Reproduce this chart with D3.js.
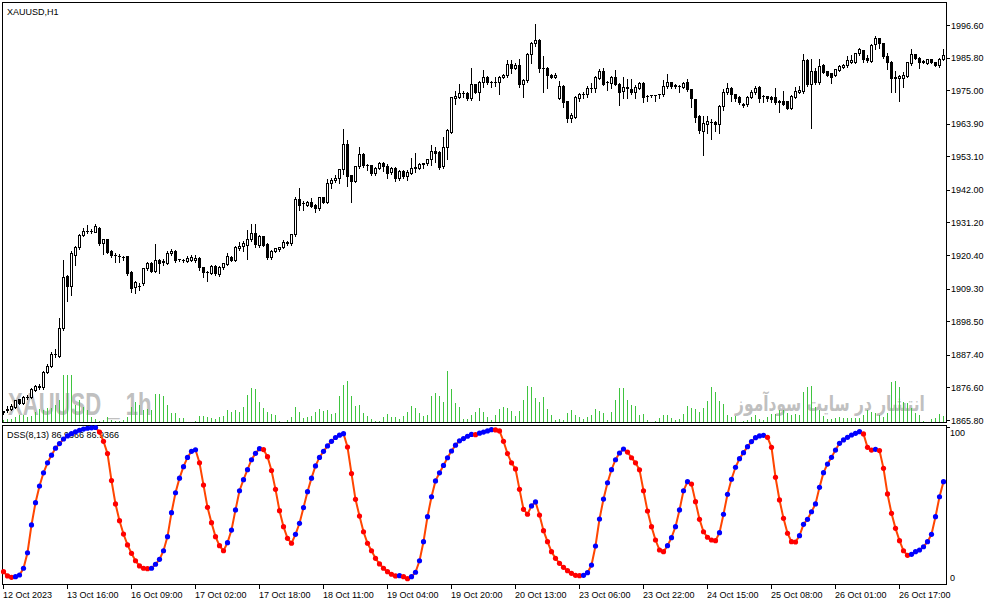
<!DOCTYPE html>
<html>
<head>
<meta charset="utf-8">
<script src="https://cdn.jsdelivr.net/npm/d3@7"></script>
<style>
  body { margin: 0; background: #fff; }
  svg text { font-family: "Liberation Sans", Arial, sans-serif; }
</style>
</head>
<body>
<svg id="chart" width="991" height="605"></svg>
<script>
// XAUUSD H1, 236 bars
var openP = [
 1868.3,1869.2,1869.3,1870.2,1872.6,1871.5,1873.3,1873.3,1875.7,1876.8,1876.6,1881.8,1883.7,1887.5,1887.1,1896.1,1913.5,1910.2,1920.4,1923.0,
 1927.1,1928.4,1928.3,1928.2,1929.5,1924.3,1925.6,1921.8,1920.5,1920.2,1919.9,1920.1,1914.9,1909.7,1910.1,1911.2,1916.0,1917.9,1915.2,1918.8,
 1918.2,1917.9,1921.0,1921.9,1919.0,1918.8,1918.5,1918.8,1918.8,1919.3,1916.3,1914.9,1914.4,1916.8,1914.1,1916.3,1917.4,1919.9,1918.8,1922.6,
 1923.4,1923.7,1925.6,1927.6,1923.7,1926.7,1924.1,1919.7,1921.9,1922.3,1923.0,1924.3,1924.5,1927.4,1938.9,1937.5,1937.0,1937.9,1937.0,1935.9,
 1939.5,1938.1,1944.2,1945.3,1946.1,1948.8,1957.2,1946.9,1945.0,1949.9,1953.9,1950.3,1950.2,1947.5,1949.4,1950.8,1949.9,1948.0,1949.4,1946.1,
 1948.3,1946.6,1947.7,1949.1,1949.4,1950.7,1950.8,1952.1,1955.0,1954.6,1949.9,1956.1,1961.3,1972.3,1972.9,1974.1,1974.2,1972.3,1976.9,1974.5,
 1977.8,1979.4,1977.7,1977.6,1977.6,1979.4,1980.0,1983.6,1982.5,1983.3,1977.2,1978.3,1986.9,1990.8,1991.6,1982.5,1982.5,1980.2,1979.4,1972.3,
 1976.5,1971.4,1965.9,1966.2,1972.5,1973.6,1973.6,1975.8,1975.6,1979.2,1981.3,1977.6,1977.3,1979.4,1977.2,1974.7,1975.7,1975.4,1974.3,1975.8,
 1977.3,1973.1,1973.4,1973.4,1973.6,1973.6,1976.5,1977.6,1976.6,1976.5,1976.2,1977.6,1975.4,1972.1,1966.6,1961.5,1963.7,1964.5,1964.6,1963.7,
 1969.9,1974.3,1975.8,1973.6,1972.8,1970.6,1970.3,1972.8,1974.3,1976.2,1973.1,1973.1,1972.8,1972.8,1971.0,1971.4,1971.4,1969.2,1972.9,1974.5,
 1974.7,1985.0,1976.9,1981.4,1977.8,1983.3,1981.3,1980.6,1980.2,1981.7,1982.8,1983.3,1984.4,1984.4,1987.2,1988.3,1985.8,1984.7,1990.2,1992.2,
 1990.5,1986.4,1984.4,1979.5,1978.9,1979.1,1979.8,1983.9,1986.9,1985.8,1984.7,1983.9,1985.3,1984.2,1983.3,1985.5
];
var highP = [
 1869.2,1870.8,1871.3,1872.8,1873.2,1874.0,1874.3,1876.6,1877.8,1877.9,1882.3,1884.8,1888.6,1889.8,1899.8,1919.0,1914.3,1922.0,1923.8,1927.8,
 1929.8,1930.7,1929.4,1930.9,1930.0,1926.2,1926.0,1922.3,1921.5,1921.0,1920.4,1920.6,1915.5,1912.2,1911.6,1916.5,1918.5,1918.6,1924.5,1919.4,
 1919.4,1922.0,1922.6,1922.4,1919.6,1919.3,1920.3,1920.8,1920.9,1920.2,1916.8,1915.4,1917.4,1917.3,1917.1,1918.2,1921.5,1920.4,1923.8,1925.0,
 1925.3,1928.9,1931.1,1931.1,1927.3,1927.2,1924.6,1922.4,1923.1,1923.5,1925.6,1925.5,1927.8,1940.1,1942.8,1938.6,1938.6,1939.5,1937.6,1940.1,
 1940.1,1946.0,1946.3,1947.4,1949.3,1962.4,1958.7,1947.4,1950.4,1956.5,1954.5,1951.0,1950.7,1950.0,1951.7,1951.7,1951.0,1950.0,1950.0,1948.9,
 1949.0,1948.8,1952.8,1954.6,1951.2,1951.3,1952.6,1957.2,1956.5,1955.2,1959.8,1962.4,1973.2,1975.1,1977.5,1975.1,1974.8,1982.8,1977.5,1978.3,
 1982.0,1980.0,1978.4,1979.8,1980.0,1980.8,1985.3,1985.3,1984.5,1985.8,1978.9,1987.5,1991.4,1997.1,1992.4,1986.6,1983.0,1980.7,1981.1,1978.3,
 1977.0,1971.9,1967.9,1973.4,1974.5,1974.7,1976.7,1977.8,1980.0,1982.5,1982.8,1978.4,1980.0,1982.0,1977.8,1979.8,1979.1,1979.1,1976.9,1978.0,
 1977.9,1973.6,1973.9,1973.8,1974.0,1978.7,1980.6,1978.0,1977.3,1977.0,1978.0,1978.9,1975.9,1972.5,1967.1,1966.8,1966.8,1965.9,1965.1,1970.4,
 1975.6,1977.8,1976.5,1974.1,1973.3,1971.1,1973.4,1975.4,1976.7,1976.7,1973.6,1973.4,1973.3,1976.2,1972.0,1975.1,1971.9,1973.7,1976.5,1976.7,
 1987.2,1985.8,1985.8,1982.8,1985.8,1983.9,1981.8,1981.1,1982.5,1983.6,1983.9,1986.7,1986.9,1987.7,1989.4,1988.8,1986.9,1990.5,1993.3,1992.7,
 1991.0,1987.5,1984.9,1981.7,1980.4,1981.3,1984.7,1989.1,1987.4,1986.3,1985.3,1985.6,1985.6,1984.6,1986.1,1989.1
];
var lowP = [
 1867.9,1868.5,1869.0,1869.8,1871.0,1871.1,1872.6,1873.0,1875.3,1875.9,1876.2,1881.3,1883.2,1886.7,1886.8,1895.5,1905.3,1907.2,1917.1,1922.5,
 1926.7,1927.6,1927.8,1927.9,1923.8,1920.8,1921.0,1919.9,1918.2,1918.2,1918.8,1913.8,1908.3,1908.0,1908.8,1910.6,1915.5,1914.7,1914.8,1914.4,
 1917.2,1917.4,1920.6,1918.2,1918.3,1918.1,1918.0,1918.3,1918.2,1915.6,1913.0,1911.9,1914.0,1913.9,1913.6,1915.8,1917.0,1918.3,1918.3,1922.1,
 1921.8,1919.0,1925.0,1923.0,1923.2,1923.4,1919.2,1919.0,1921.4,1921.9,1922.6,1923.8,1923.7,1926.8,1935.3,1935.3,1936.6,1936.2,1934.8,1935.3,
 1937.6,1937.6,1942.5,1944.5,1944.4,1947.3,1943.3,1938.1,1944.5,1949.4,1949.6,1948.6,1947.0,1947.0,1948.9,1948.4,1946.1,1947.4,1945.0,1945.3,
 1946.0,1945.3,1947.2,1948.0,1948.9,1949.1,1950.3,1950.2,1951.3,1949.0,1949.4,1952.1,1960.9,1970.6,1972.4,1972.6,1971.8,1971.8,1974.0,1971.7,
 1976.2,1976.9,1976.2,1976.5,1973.9,1978.9,1979.5,1980.6,1982.0,1976.2,1972.9,1977.8,1983.9,1989.7,1980.9,1974.3,1975.8,1978.9,1978.9,1972.0,
 1969.6,1964.4,1964.4,1965.7,1971.4,1972.5,1972.9,1974.5,1974.3,1978.7,1976.7,1975.1,1975.6,1976.7,1970.1,1972.3,1972.3,1973.8,1972.3,1975.3,
 1971.0,1971.4,1972.9,1971.4,1972.5,1973.0,1975.6,1975.9,1975.6,1974.5,1975.6,1974.9,1969.5,1964.6,1960.7,1953.5,1960.7,1958.8,1961.5,1961.0,
 1968.4,1973.6,1971.4,1971.4,1970.5,1969.6,1969.8,1972.3,1973.8,1971.0,1971.0,1971.4,1971.0,1970.5,1967.9,1970.1,1968.7,1968.7,1972.3,1974.0,
 1974.2,1976.3,1962.6,1976.9,1977.2,1980.6,1979.7,1977.3,1979.7,1981.3,1982.3,1982.8,1984.0,1983.9,1986.7,1984.4,1984.4,1984.2,1988.6,1988.9,
 1985.8,1982.0,1974.3,1974.5,1971.4,1976.2,1979.5,1983.4,1985.3,1982.2,1983.9,1983.6,1983.9,1983.1,1982.8,1985.0
];
var closeP = [
 1868.8,1869.4,1870.4,1872.4,1871.5,1873.5,1873.4,1875.9,1877.0,1876.9,1881.8,1883.7,1887.6,1887.7,1896.1,1913.0,1910.2,1921.0,1923.0,1927.1,
 1928.4,1928.5,1928.4,1930.0,1924.3,1925.6,1921.5,1920.4,1920.4,1920.1,1919.8,1914.4,1909.4,1911.6,1910.2,1916.0,1917.9,1915.2,1918.8,1917.7,
 1918.3,1921.2,1921.9,1918.8,1919.0,1918.7,1919.6,1919.9,1919.6,1916.3,1914.9,1914.8,1916.8,1914.4,1916.6,1917.7,1920.1,1918.8,1923.2,1923.4,
 1924.3,1925.9,1927.6,1924.1,1926.7,1923.9,1919.7,1921.9,1922.6,1923.0,1924.8,1924.8,1927.4,1938.9,1937.0,1937.6,1938.1,1936.7,1935.9,1939.5,
 1938.1,1944.2,1945.3,1946.1,1948.8,1957.2,1946.6,1945.0,1949.9,1953.9,1950.2,1950.2,1947.5,1949.4,1950.8,1949.9,1947.7,1949.4,1945.8,1948.3,
 1946.6,1948.0,1949.4,1949.7,1950.6,1950.8,1952.1,1955.0,1954.3,1949.7,1956.1,1961.8,1972.6,1973.1,1974.2,1974.2,1972.3,1976.9,1974.5,1977.8,
 1979.4,1977.6,1977.6,1977.7,1979.4,1980.0,1983.6,1982.5,1983.3,1977.2,1978.3,1986.9,1990.8,1991.6,1982.5,1982.4,1980.0,1979.4,1980.2,1976.5,
 1971.0,1965.9,1966.8,1972.9,1973.6,1973.7,1975.8,1975.9,1979.4,1981.3,1977.2,1977.7,1979.4,1977.2,1974.5,1976.2,1976.2,1974.3,1976.2,1977.3,
 1972.9,1973.2,1973.4,1973.5,1973.7,1976.5,1977.6,1976.5,1976.5,1976.4,1977.3,1975.4,1972.3,1966.2,1961.8,1964.0,1964.8,1964.6,1963.7,1969.9,
 1974.3,1975.8,1973.6,1972.5,1971.0,1970.1,1972.8,1974.5,1975.8,1972.5,1973.0,1972.3,1972.1,1971.0,1971.4,1970.6,1969.2,1973.2,1974.7,1975.1,
 1985.0,1976.9,1981.4,1977.6,1983.1,1981.1,1980.2,1979.5,1982.0,1983.1,1983.3,1985.0,1985.0,1987.2,1988.6,1985.5,1985.0,1990.0,1992.2,1990.5,
 1986.4,1984.4,1979.1,1979.1,1979.8,1980.2,1984.2,1986.9,1985.8,1984.4,1984.2,1985.3,1984.2,1983.3,1985.5,1986.6
];
var volume = [
 1350,2000,1650,2700,3850,3850,2700,3350,5500,6700,6350,7200,7200,9000,11350,23850,23850,23850,8850,11350,
 8000,6350,2700,1700,1000,1350,3000,1350,1000,1000,1350,2700,8000,10500,8850,6350,6700,6350,14350,14350,
 13350,8850,5000,5000,2200,2200,500,500,1000,3350,3350,2700,2200,1700,2700,3350,6350,5500,6000,5500,
 8000,13850,17200,16700,10500,7350,5500,4350,3850,1000,500,1350,2700,7700,5500,2200,2700,3350,5500,6700,
 5750,6250,4350,5000,13350,18850,20850,13350,8350,8850,5000,3350,1850,850,850,2850,4350,2850,2850,1850,
 3350,5350,8350,7350,4850,3350,3850,13350,14850,13350,10350,25850,16850,9850,7850,1850,1850,3850,5350,7350,
 5350,2850,1350,3850,6850,7850,7350,5850,3350,5850,11350,18350,17850,12350,10350,12850,6850,3850,1350,1850,
 1350,4850,6350,3850,2850,1850,2850,3850,6850,5850,4850,1350,5350,11350,17350,17350,11350,8850,8350,3850,
 4350,1350,350,850,2350,3850,3850,2200,1350,1700,4350,8350,7200,6700,5500,7200,11000,18000,15500,11000,
 9350,3850,3000,3350,500,1000,1350,2700,3850,1700,1350,2700,4350,4350,6000,6350,4700,3850,4350,3850,
 15500,18000,18350,8000,6350,3350,1700,2000,2200,2700,2200,2200,2200,2200,2200,3850,6350,5500,4700,3850,
 3000,4700,20500,21000,18000,10500,9700,7200,4700,3850,1000,500,1700,2200,4350,3350
];
// DSS(8,13) oscillator, 0..100
var dss = [
 6.1,3.3,2.4,2.8,3.9,8.3,18.4,36.5,51,61.9,70.5,77,82,86.5,89.5,92.5,94.5,96,97.2,98.2,
 99,99.5,99.8,100,97,91,83,65.4,50.2,39.3,30.6,23.5,18,13.2,9.8,8.3,8.0,8.3,10.9,14.1,
 19.7,28.9,44.5,57.5,67,74.5,80.5,84.5,85.5,77,62.5,48,38,28.9,23,19.7,25,33.2,46.3,58.8,
 66,72.5,79,83.2,86.2,85.6,81,72,59.7,45.8,35.4,27.8,24.6,30.4,37.6,47.8,58.2,67,75,80.5,
 84.5,88,91,93.5,95,96,87.3,70,53.2,42.3,32.1,24.6,19.7,14.8,11.1,8.3,6.1,4.4,3.3,3.5,
 2.8,1.5,2.8,5.7,13.2,25.6,41.9,54.9,65.2,70.5,75.3,80.3,84.7,88.5,91.3,92.8,94.3,95.5,95.3,96.3,
 97,97.8,98.6,98.4,97.8,91,83,77,73,59.7,46.7,43.5,48.9,51.5,43,32.8,25.6,19.1,14.8,11.5,
 8.9,6.7,5,3.7,3.5,3.7,5.4,10.4,22.8,40.4,53.4,64,72.5,79,83.4,86,84,80.3,77,72.4,
 58.8,45.6,35.4,26.7,20.2,19.1,23,28.2,35.4,46.3,58.8,64.7,63.2,51.7,40.2,32.1,28.5,26.7,26.3,31.5,
 43.5,56.5,66.3,74.1,79.7,83.6,87.5,90.8,93.4,94.5,94.9,93.6,87.1,67.6,52.8,40.8,31.1,25.6,25.4,29.5,
 36.9,40.2,45.1,50.2,61,70.6,76.2,80.6,85.3,89.7,91.9,93.6,95.1,96.2,97.3,95.8,87.1,85.3,85.8,85.0,
 73.4,56.7,44.1,34.3,26.3,19.7,16.7,17.4,19.1,20.2,22.3,25.6,30.4,41.9,54.9,64.7
];
var priceTicks = [1996.60,1985.80,1975.00,1963.90,1953.10,1942.00,1931.20,1920.40,1909.30,1898.50,1887.40,1876.60,1865.80];
var timeTickIdx = [0,16,32,48,64,80,96,112,128,144,160,176,192,208,224];
var timeLabels = ["12 Oct 2023","13 Oct 16:00","16 Oct 09:00","17 Oct 02:00","17 Oct 18:00","18 Oct 11:00",
  "19 Oct 04:00","19 Oct 20:00","20 Oct 13:00","23 Oct 06:00","23 Oct 22:00","24 Oct 15:00",
  "25 Oct 08:00","26 Oct 01:00","26 Oct 17:00"];
var dssTicks = [100, 0];

var svg = d3.select("#chart");
var n = closeP.length;
var axisX = 946.5;

var x = d3.scaleLinear().domain([0, n - 1]).range([3.5, 3.5 + 4 * (n - 1)]);
var yP = d3.scaleLinear().domain([1865.8, 1996.6]).range([420, 25]);
var yV = d3.scaleLinear().domain([0, 26000]).range([422.5, 370.5]);
var yD = d3.scaleLinear().domain([0, 100]).range([581, 427.5]);

var bars = d3.range(n).map(function(i) {
  return {i: i, o: openP[i], h: highP[i], l: lowP[i], c: closeP[i], v: volume[i], d: dss[i]};
});

// watermarks (behind the bars)
var wm = svg.append("g").attr("fill", "#c0c0c0").style("font-weight", "bold");
wm.append("text").attr("transform", "translate(8,415) scale(0.69,1)")
  .style("font-size", "32px").style("white-space", "pre").text("XAUUSD _ 1h");
wm.append("text").attr("transform", "translate(830,411) scale(0.735,1)")
  .attr("text-anchor", "middle")
  .style("font-family", "'DejaVu Sans', sans-serif").style("font-size", "21px")
  .text("انتشار در سایت سودآموز");

// volumes
svg.append("g").attr("shape-rendering", "crispEdges")
  .selectAll("line").data(bars).join("line")
  .attr("x1", function(d) { return x(d.i); }).attr("x2", function(d) { return x(d.i); })
  .attr("y1", yV(0)).attr("y2", function(d) { return Math.round(yV(d.v)); })
  .attr("stroke", "#3fc43f").attr("stroke-width", 1);

// candles
var cg = svg.append("g").attr("shape-rendering", "crispEdges");
cg.selectAll("line.wick").data(bars).join("line").attr("class", "wick")
  .attr("x1", function(d) { return x(d.i); }).attr("x2", function(d) { return x(d.i); })
  .attr("y1", function(d) { return Math.round(yP(d.h)) + 0.5; })
  .attr("y2", function(d) { return Math.round(yP(d.l)) + 0.5; })
  .attr("stroke", "#000");
cg.selectAll("rect.body").data(bars.filter(function(d) {
    return Math.abs(Math.round(yP(d.o)) - Math.round(yP(d.c))) >= 1; }))
  .join("rect").attr("class", "body")
  .attr("x", function(d) { return x(d.i) - (d.c > d.o ? 1 : 1.5); })
  .attr("width", function(d) { return d.c > d.o ? 2 : 3; })
  .attr("y", function(d) {
    var t = Math.round(yP(Math.max(d.o, d.c)));
    return d.c > d.o ? t + 0.5 : t; })
  .attr("height", function(d) {
    var t = Math.round(yP(Math.max(d.o, d.c))), b = Math.round(yP(Math.min(d.o, d.c)));
    return d.c > d.o ? b - t : b - t + 1; })
  .attr("fill", function(d) { return d.c > d.o ? "#fff" : "#000"; })
  .attr("stroke", function(d) { return d.c > d.o ? "#000" : "none"; });
cg.selectAll("line.doji").data(bars.filter(function(d) {
    return Math.abs(Math.round(yP(d.o)) - Math.round(yP(d.c))) < 1; }))
  .join("line").attr("class", "doji")
  .attr("x1", function(d) { return x(d.i) - 1.5; }).attr("x2", function(d) { return x(d.i) + 1.5; })
  .attr("y1", function(d) { return Math.round(yP(d.c)) + 0.5; })
  .attr("y2", function(d) { return Math.round(yP(d.c)) + 0.5; })
  .attr("stroke", "#000");

// frames
var fr = svg.append("g").attr("fill", "none").attr("stroke", "#000").attr("shape-rendering", "crispEdges");
fr.append("rect").attr("x", 2.5).attr("y", 2.5).attr("width", axisX - 2.5).attr("height", 420);
fr.append("rect").attr("x", 2.5).attr("y", 425.5).attr("width", axisX - 2.5).attr("height", 159);

// price axis
var pa = svg.append("g");
pa.selectAll("line").data(priceTicks).join("line")
  .attr("x1", axisX).attr("x2", axisX + 3.5)
  .attr("y1", function(d) { return Math.round(yP(d)) + 0.5; })
  .attr("y2", function(d) { return Math.round(yP(d)) + 0.5; })
  .attr("stroke", "#000").attr("shape-rendering", "crispEdges");
pa.selectAll("text").data(priceTicks).join("text")
  .attr("x", 951).attr("y", function(d) { return yP(d) + 3.5; })
  .style("font-size", "9px").text(function(d) { return d.toFixed(2); });

// time axis
var ta = svg.append("g");
ta.selectAll("line").data(timeTickIdx).join("line")
  .attr("x1", function(d) { return x(d); }).attr("x2", function(d) { return x(d); })
  .attr("y1", 585).attr("y2", 589)
  .attr("stroke", "#000").attr("shape-rendering", "crispEdges");
ta.selectAll("text").data(timeTickIdx).join("text")
  .attr("x", function(d) { return x(d) - 0.5; }).attr("y", 597.5)
  .style("font-size", "9px").text(function(d, k) { return timeLabels[k]; });

// DSS scale labels
var da = svg.append("g");
da.selectAll("text").data(dssTicks).join("text")
  .attr("x", 950).attr("y", function(d) { return d === 100 ? 435.5 : 580.5; })
  .style("font-size", "9px").text(function(d) { return d; });
da.append("line").attr("x1", axisX).attr("x2", axisX + 3.5).attr("y1", 427.5).attr("y2", 427.5)
  .attr("stroke", "#000").attr("shape-rendering", "crispEdges");

// titles
svg.append("text").attr("x", 7).attr("y", 15).style("font-size", "9px").text("XAUUSD,H1");
svg.append("text").attr("x", 7).attr("y", 438).style("font-size", "9px").text("DSS(8,13) 86.9366 86.9366");

// DSS line and dots
svg.append("path").datum(bars)
  .attr("d", d3.line().x(function(d) { return x(d.i); }).y(function(d) { return yD(d.d); }))
  .attr("fill", "none").attr("stroke", "#ff4500").attr("stroke-width", 2);
svg.append("g").selectAll("circle").data(bars).join("circle")
  .attr("cx", function(d) { return x(d.i); }).attr("cy", function(d) { return yD(d.d); })
  .attr("r", 2.6)
  .attr("fill", function(d) { return d.i > 0 && d.d > dss[d.i - 1] ? "#0000ff" : "#ff0000"; });
</script>
</body>
</html>
